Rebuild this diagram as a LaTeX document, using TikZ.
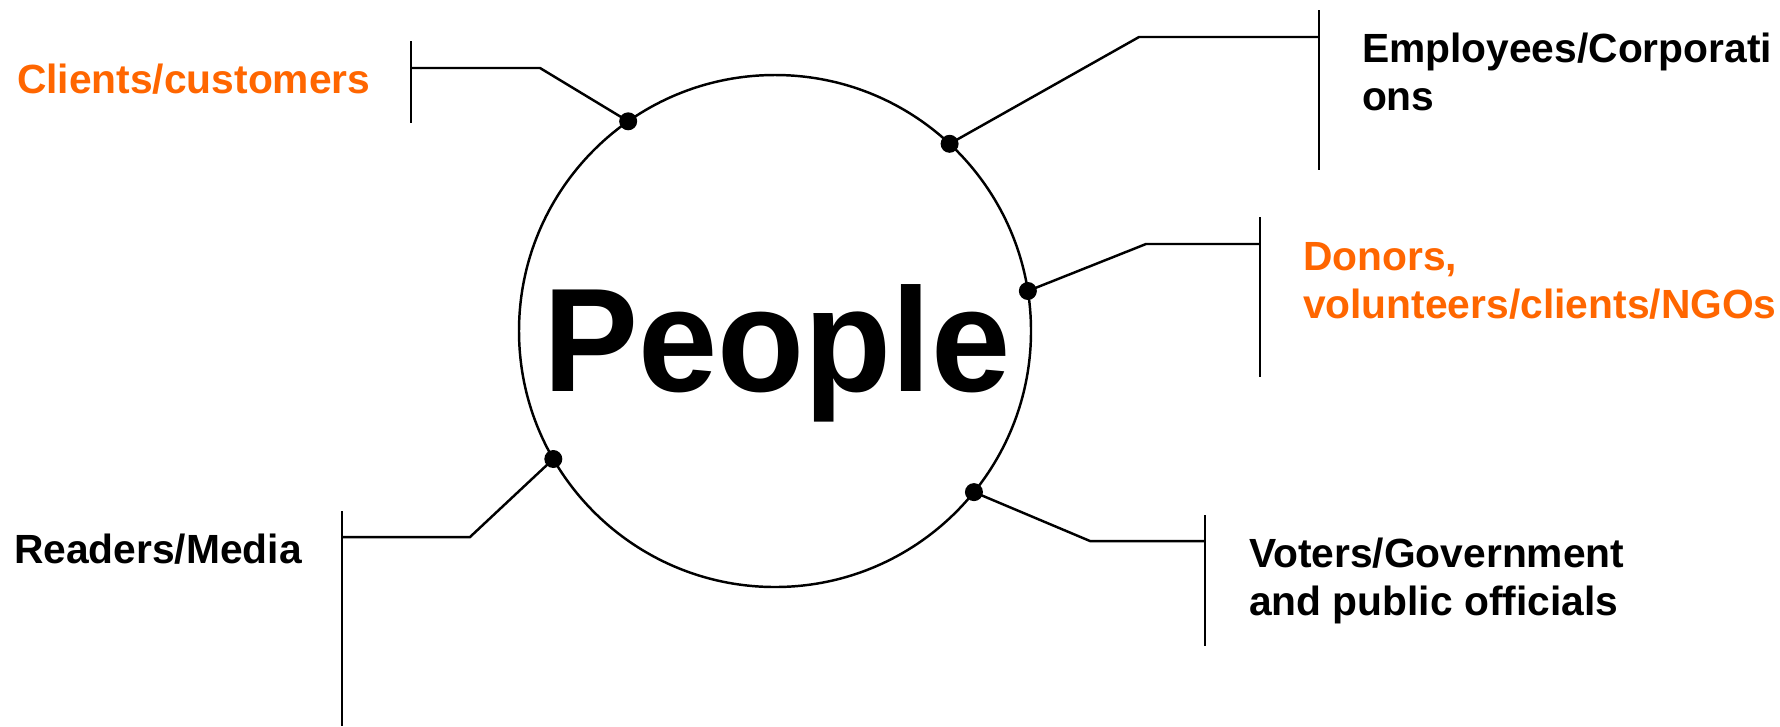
\documentclass[tikz,border=0pt]{standalone}
\usepackage{fontspec}
\setmainfont{Liberation Sans}
\newfontfamily\titlefont[FakeStretch=0.965]{Liberation Sans}
\definecolor{labelorange}{HTML}{FF6600}
\begin{document}
\begin{tikzpicture}[x=0.1mm,y=-0.1mm,
  conn/.style={line width=0.7pt, black},
  dotnode/.style={circle, fill=black, inner sep=0, outer sep=0, minimum size=1.8mm},
  lab/.style={font=\fontsize{11.6pt}{13.4pt}\selectfont\bfseries, inner sep=0, outer sep=0, anchor=base west, align=left},
  hilab/.style={lab, text=labelorange}]
\fill[white] (0,0) rectangle (1780,726);
\useasboundingbox (0,0) rectangle (1780,726);
% central circle and title
\node[draw, line width=0.7pt, circle, minimum size=51.2mm, inner sep=0, outer sep=0] (circ) at (775,331) {};
\node[font=\titlefont\fontsize{42pt}{48pt}\selectfont\bfseries, inner sep=0, anchor=base] (people) at (777,391) {People};
% dots on the circle
\node[dotnode] (d1) at (circ.125.7) {};
\node[dotnode] (d2) at (circ.47.9) {};
\node[dotnode] (d3) at (circ.9.8) {};
\node[dotnode] (d4) at (circ.210.9) {};
\node[dotnode] (d5) at (circ.-39.8) {};
% elbows and bars
\coordinate (e1) at (540,68);   \coordinate (b1) at (411,68);
\coordinate (t1) at (411,41);   \coordinate (u1) at (411,123);
\coordinate (e2) at (1139,37);  \coordinate (b2) at (1319,37);
\coordinate (t2) at (1319,10);  \coordinate (u2) at (1319,170);
\coordinate (e3) at (1146,244); \coordinate (b3) at (1260,244);
\coordinate (t3) at (1260,217); \coordinate (u3) at (1260,377);
\coordinate (e4) at (470,537);  \coordinate (b4) at (342,537);
\coordinate (t4) at (342,511);  \coordinate (u4) at (342,726);
\coordinate (e5) at (1090,541); \coordinate (b5) at (1205,541);
\coordinate (t5) at (1205,515); \coordinate (u5) at (1205,646);
\foreach \i in {1,...,5}{
  \draw[conn] (d\i.center) -- (e\i) -- (b\i);
  \draw[conn] (t\i) -- (u\i);
}
% labels (multi-line labels are placed by the baseline of their last line)
\node[hilab] (clients) at (17,93) {Clients/customers};
\node[lab] (employees) at (1362,110) {Employees/Corporati\\ons};
\node[hilab] (donors) at (1303,318) {Donors,\\volunteers/clients/NGOs};
\node[lab] (readers) at (14,563) {Readers/Media};
\node[lab] (voters) at (1249,615) {Voters/Government\\and public officials};
\end{tikzpicture}
\end{document}
